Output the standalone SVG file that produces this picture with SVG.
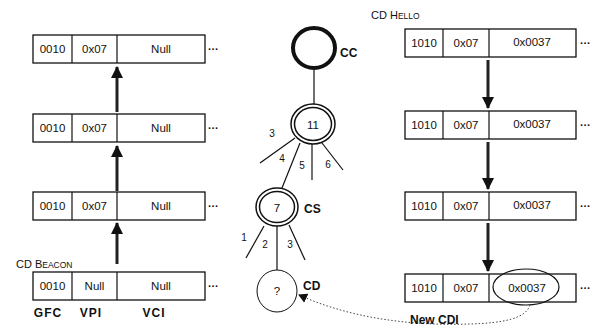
<svg xmlns="http://www.w3.org/2000/svg" width="605" height="329" viewBox="0 0 605 329">
<style>
.box{fill:#fff;stroke:#111;stroke-width:1.3}
.div{stroke:#111;stroke-width:1.2}
.t{font-family:"Liberation Sans",Arial,sans-serif;font-size:11.5px;fill:#111;text-anchor:middle}
.b{font-family:"Liberation Sans",Arial,sans-serif;font-weight:bold;font-size:12px;fill:#111}
.sc{font-family:"Liberation Sans",Arial,sans-serif;font-size:11px;fill:#111}
.dots{font-family:"Liberation Sans",Arial,sans-serif;font-weight:bold;font-size:11px;fill:#111;letter-spacing:0.5px}
.lbl{font-family:"Liberation Sans",Arial,sans-serif;font-size:10px;fill:#111;text-anchor:middle}
.edge{stroke:#111;stroke-width:1.2;fill:none}
.arr{stroke:#222;stroke-width:3;fill:none}
</style>
<defs>
<marker id="ah" markerWidth="10" markerHeight="10" refX="8" refY="5" orient="auto" markerUnits="userSpaceOnUse">
<path d="M0,0 L9,5 L0,10 Z" fill="#111"/>
</marker>
<marker id="bh" markerWidth="12" markerHeight="14" refX="11" refY="6" orient="auto" markerUnits="userSpaceOnUse">
<path d="M0,0 L12,6 L0,12 Z" fill="#111"/>
</marker>
</defs>

<!-- left column -->
<g id="L1">
<rect class="box" x="33" y="35" width="172" height="28"/>
<line class="div" x1="72" y1="35" x2="72" y2="63"/><line class="div" x1="117" y1="35" x2="117" y2="63"/>
<text class="t" x="52.5" y="53">0010</text><text class="t" x="94.5" y="53">0x07</text><text class="t" x="161" y="53">Null</text>
<text class="dots" x="208" y="50">...</text>
</g>
<g id="L2">
<rect class="box" x="33" y="114" width="172" height="28"/>
<line class="div" x1="72" y1="114" x2="72" y2="142"/><line class="div" x1="117" y1="114" x2="117" y2="142"/>
<text class="t" x="52.5" y="132">0010</text><text class="t" x="94.5" y="132">0x07</text><text class="t" x="161" y="132">Null</text>
<text class="dots" x="208" y="129">...</text>
</g>
<g id="L3">
<rect class="box" x="33" y="192" width="172" height="28"/>
<line class="div" x1="72" y1="192" x2="72" y2="220"/><line class="div" x1="117" y1="192" x2="117" y2="220"/>
<text class="t" x="52.5" y="210">0010</text><text class="t" x="94.5" y="210">0x07</text><text class="t" x="161" y="210">Null</text>
<text class="dots" x="208" y="207">...</text>
</g>
<g id="L4">
<text class="sc" x="16" y="268">CD B<tspan font-size="8.5px">EACON</tspan></text>
<rect class="box" x="33" y="272" width="172" height="28"/>
<line class="div" x1="72" y1="272" x2="72" y2="300"/><line class="div" x1="117" y1="272" x2="117" y2="300"/>
<text class="t" x="52.5" y="290">0010</text><text class="t" x="94.5" y="290">Null</text><text class="t" x="161" y="290">Null</text>
<text class="dots" x="208" y="287">...</text>
<text class="b" x="48" y="317" text-anchor="middle" letter-spacing="1">GFC</text>
<text class="b" x="91" y="317" text-anchor="middle" letter-spacing="1">VPI</text>
<text class="b" x="154" y="317" text-anchor="middle" letter-spacing="1">VCI</text>
</g>

<!-- right column -->
<g id="R1">
<text class="sc" x="371" y="19">CD H<tspan font-size="8.5px">ELLO</tspan></text>
<rect class="box" x="405" y="29" width="171" height="28"/>
<line class="div" x1="443" y1="29" x2="443" y2="57"/><line class="div" x1="489" y1="29" x2="489" y2="57"/>
<text class="t" x="424" y="47">1010</text><text class="t" x="466" y="47">0x07</text><text class="t" x="532" y="46">0x0037</text>
<text class="dots" x="580" y="44">...</text>
</g>
<g id="R2">
<rect class="box" x="405" y="111" width="171" height="28"/>
<line class="div" x1="443" y1="111" x2="443" y2="139"/><line class="div" x1="489" y1="111" x2="489" y2="139"/>
<text class="t" x="424" y="129">1010</text><text class="t" x="466" y="129">0x07</text><text class="t" x="532" y="128">0x0037</text>
<text class="dots" x="580" y="126">...</text>
</g>
<g id="R3">
<rect class="box" x="405" y="192" width="171" height="28"/>
<line class="div" x1="443" y1="192" x2="443" y2="220"/><line class="div" x1="489" y1="192" x2="489" y2="220"/>
<text class="t" x="424" y="210">1010</text><text class="t" x="466" y="210">0x07</text><text class="t" x="532" y="209">0x0037</text>
<text class="dots" x="580" y="207">...</text>
</g>
<g id="R4">
<rect class="box" x="405" y="274" width="171" height="28"/>
<line class="div" x1="443" y1="274" x2="443" y2="302"/><line class="div" x1="489" y1="274" x2="489" y2="302"/>
<text class="t" x="424" y="292">1010</text><text class="t" x="466" y="292">0x07</text><text class="t" x="527" y="292">0x0037</text>
<ellipse cx="526" cy="287" rx="33" ry="18" fill="none" stroke="#111" stroke-width="1.2"/>
<text class="dots" x="580" y="289">...</text>
</g>

<!-- tree nodes -->
<g id="CC">
<ellipse cx="314" cy="48" rx="21" ry="20" fill="none" stroke="#111" stroke-width="4"/>
<text class="b" x="340" y="57">CC</text>
</g>
<g id="N11">
<ellipse cx="313" cy="124" rx="22" ry="20" fill="#fff" stroke="#111" stroke-width="1.5"/>
<ellipse cx="313" cy="124" rx="18.5" ry="16.5" fill="none" stroke="#111" stroke-width="1.5"/>
<text class="t" x="313" y="129" font-size="12px">11</text>
</g>
<g id="CS">
<ellipse cx="277" cy="207" rx="21" ry="19" fill="#fff" stroke="#111" stroke-width="1.5"/>
<ellipse cx="277" cy="207" rx="17.5" ry="15.5" fill="none" stroke="#111" stroke-width="1.5"/>
<text class="t" x="277" y="212" font-size="12px">7</text>
<text class="b" x="304" y="213">CS</text>
</g>
<g id="CD">
<ellipse cx="277" cy="291" rx="20" ry="21" fill="#fff" stroke="#111" stroke-width="1"/>
<text class="t" x="277" y="295">?</text>
<text class="b" x="303" y="290">CD</text>
</g>

<!-- connectors -->
<g id="connectors">
<line class="edge" x1="314" y1="70" x2="314" y2="104"/>
<line class="edge" x1="295" y1="138" x2="260" y2="163"/>
<line class="edge" x1="300" y1="143" x2="282" y2="188"/>
<line class="edge" x1="312" y1="144" x2="312" y2="180"/>
<line class="edge" x1="322" y1="143" x2="343" y2="170"/>
<text class="lbl" x="272" y="137">3</text>
<text class="lbl" x="282" y="162">4</text>
<text class="lbl" x="302" y="169">5</text>
<text class="lbl" x="328" y="168">6</text>
<line class="edge" x1="264" y1="226" x2="246" y2="258"/>
<line class="edge" x1="277" y1="226" x2="277" y2="270" stroke-width="2"/>
<line class="edge" x1="289" y1="225" x2="305" y2="260"/>
<text class="lbl" x="244" y="241">1</text>
<text class="lbl" x="265" y="248">2</text>
<text class="lbl" x="290" y="248">3</text>
<line class="arr" x1="117" y1="112" x2="117" y2="67" marker-end="url(#bh)"/>
<line class="arr" x1="117" y1="191" x2="117" y2="146" marker-end="url(#bh)"/>
<line class="arr" x1="117" y1="264" x2="117" y2="223" marker-end="url(#bh)"/>
<line class="arr" x1="488" y1="60" x2="488" y2="108" marker-end="url(#bh)"/>
<line class="arr" x1="488" y1="142" x2="488" y2="189" marker-end="url(#bh)"/>
<line class="arr" x1="488" y1="223" x2="488" y2="271" marker-end="url(#bh)"/>
<path d="M530 305 C526 318 505 323 470 324 C410 326 350 318 299 295" fill="none" stroke="#444" stroke-width="1" stroke-dasharray="1.5 2" marker-end="url(#ah)"/>
<text class="b" x="410" y="324" font-size="11px">New CDI</text>
</g>
</svg>
